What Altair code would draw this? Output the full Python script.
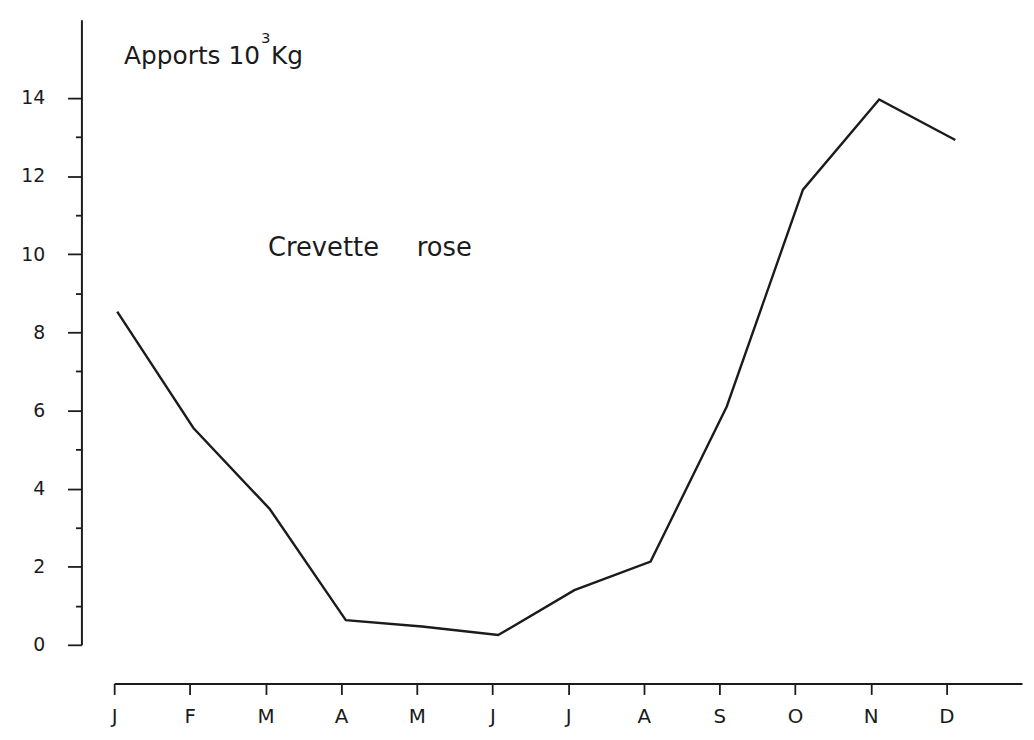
import altair as alt
import pandas as pd

# ---- data ----
months = ["J", "F", "M", "A", "M", "J", "J", "A", "S", "O", "N", "D"]
month_index = list(range(12))
apports = [8.53, 5.55, 3.48, 0.63, 0.47, 0.25, 1.4, 2.13, 6.1, 11.65, 13.96, 12.92]
y_all_ticks = list(range(0, 15))

df = pd.DataFrame({"idx": month_index, "month": months, "val": apports})
axis_df = pd.DataFrame({"idx": month_index, "month": months})

FONT = "DejaVu Sans"
INK = "#1b1b1b"

month_expr = "[" + ",".join("'%s'" % m for m in months) + "][datum.value]"

# invisible layer that carries the month axis
x_axis_layer = alt.Chart(axis_df).mark_point(opacity=0).encode(
    x=alt.X("idx:Q",
            scale=alt.Scale(domain=[0, 12], nice=False, zero=False),
            axis=alt.Axis(values=month_index, labelExpr=month_expr, title=None,
                          grid=False, offset=39, tickSize=11, tickWidth=1.8,
                          tickColor=INK, domainColor=INK, domainWidth=1.8,
                          labelFont=FONT, labelFontSize=20, labelColor=INK,
                          labelPadding=12, labelFlush=False)),
    y=alt.value(600),
)

line = alt.Chart(df).mark_line(color=INK, strokeWidth=2.4).encode(
    x=alt.X("idx:Q", scale=alt.Scale(domain=[-0.04, 11.875], nice=False, zero=False),
            axis=None),
    y=alt.Y("val:Q",
            scale=alt.Scale(domain=[0, 16], nice=False),
            axis=alt.Axis(values=y_all_ticks, title=None, grid=False, offset=33,
                          labelExpr="datum.value % 2 == 0 ? datum.label : ''",
                          tickSize={"condition": {"test": "datum.value % 2 == 1", "value": 6},
                                    "value": 14},
                          tickWidth=1.8, tickColor=INK, domainColor=INK, domainWidth=2,
                          labelFont=FONT, labelFontSize=19, labelColor=INK,
                          labelPadding=23, labelFlush=False)),
)


def label(text, x, y, size):
    return alt.Chart(pd.DataFrame({"t": [text]})).mark_text(
        align="left", baseline="alphabetic", font=FONT, fontSize=size, color=INK
    ).encode(text="t:N", x=alt.value(x), y=alt.value(y))


texts = [
    label("Apports 10", 10, 45, 25),
    label("3", 148, 23, 15),
    label("Kg", 158, 45, 25),
    label("Crevette", 155, 238, 26),
    label("rose", 305, 238, 26),
]

chart = alt.layer(x_axis_layer, line, *texts).resolve_scale(x="independent").properties(
    width=915,
    height=630,
    autosize=alt.AutoSizeParams(type="none"),
    padding={"left": 107, "top": 9, "right": 4, "bottom": 80},
    background="white",
).configure_view(stroke=None)

chart.save("out.html", embed_options={"renderer": "svg", "actions": False})
